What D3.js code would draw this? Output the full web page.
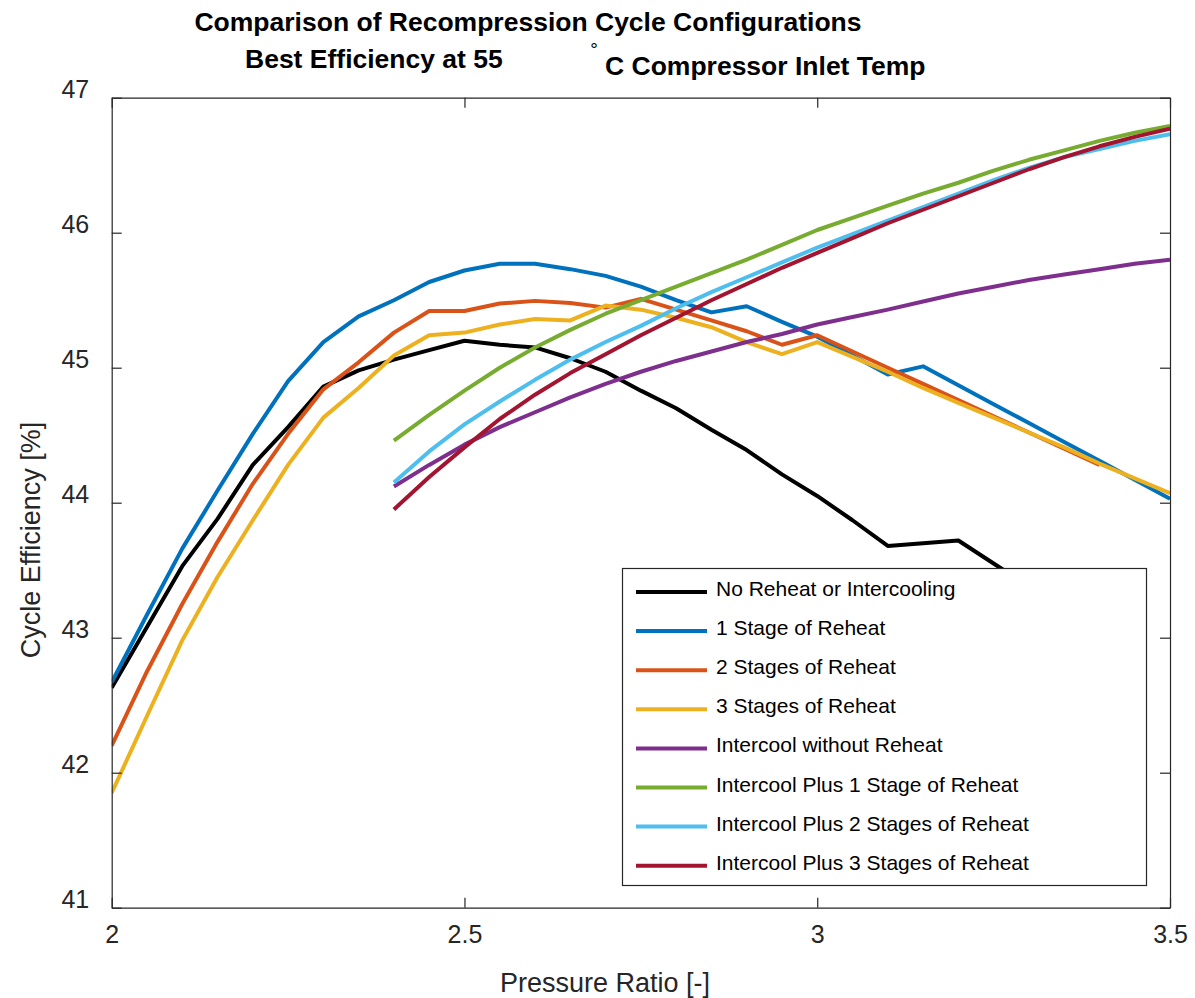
<!DOCTYPE html>
<html>
<head>
<meta charset="utf-8">
<script src="https://cdn.jsdelivr.net/npm/d3@7/dist/d3.min.js"></script>
<style>
	body { margin: 0; background: #fff; }
	svg { display: block; font-family: 'Liberation Sans', Arial, Helvetica, sans-serif; }
</style>
</head>
<body>
<svg id="chart" width="1195" height="998"></svg>
<script>
// pressure ratio grid shared by every series (null = no point)
var ratios = [2.00, 2.05, 2.10, 2.15, 2.20, 2.25, 2.30, 2.35, 2.40, 2.45, 2.50, 2.55, 2.60, 2.65, 2.70, 2.75,
	2.80, 2.85, 2.90, 2.95, 3.00, 3.05, 3.10, 3.15, 3.20, 3.25, 3.30, 3.35, 3.40, 3.45, 3.50]

var noReheat = [42.63, 43.08, 43.53, 43.88, 44.28, 44.56, 44.86, 44.98, 45.06, 45.13, 45.20, 45.17, 45.15, 45.07, 44.97, 44.83,
	44.70, 44.54, 44.39, 44.21, 44.05, 43.87, 43.68, 43.70, 43.72, 43.55, 43.38, 43.20, null, null, null]
var reheat1 = [42.67, 43.17, 43.66, 44.09, 44.51, 44.90, 45.19, 45.38, 45.50, 45.635, 45.72, 45.77, 45.77, 45.73, 45.68, 45.60,
	45.50, 45.41, 45.455, 45.34, 45.23, 45.09, 44.95, 45.01, 44.87, 44.73, 44.59, 44.45, 44.31, 44.17, 44.03]
var reheat2 = [42.20, 42.75, 43.25, 43.71, 44.14, 44.51, 44.84, 45.04, 45.26, 45.42, 45.42, 45.475, 45.495, 45.48, 45.445, 45.51,
	45.43, 45.35, 45.27, 45.17, 45.24, 45.12, 45.00, 44.88, 44.76, 44.64, 44.52, 44.40, 44.28, null, null]
var reheat3 = [41.85, 42.42, 42.98, 43.45, 43.87, 44.28, 44.63, 44.85, 45.09, 45.24, 45.26, 45.32, 45.36, 45.35, 45.46, 45.43,
	45.37, 45.30, 45.19, 45.10, 45.19, 45.08, 44.97, 44.85, 44.74, 44.63, 44.52, 44.41, 44.29, 44.18, 44.07]
var intercool0 = [null, null, null, null, null, null, null, null, 44.12, 44.28, 44.43, 44.56, 44.67, 44.78, 44.88, 44.97,
	45.05, 45.12, 45.19, 45.25, 45.32, 45.375, 45.43, 45.49, 45.55, 45.60, 45.65, 45.69, 45.73, 45.77, 45.80]
var intercool1 = [null, null, null, null, null, null, null, null, 44.46, 44.65, 44.83, 45.00, 45.15, 45.28, 45.40, 45.50,
	45.60, 45.70, 45.80, 45.91, 46.02, 46.11, 46.20, 46.29, 46.37, 46.46, 46.54, 46.61, 46.68, 46.74, 46.79]
var intercool2 = [null, null, null, null, null, null, null, null, 44.15, 44.38, 44.58, 44.75, 44.91, 45.06, 45.19, 45.31,
	45.44, 45.56, 45.67, 45.78, 45.89, 45.99, 46.09, 46.19, 46.29, 46.39, 46.48, 46.56, 46.62, 46.68, 46.73]
var intercool3 = [null, null, null, null, null, null, null, null, 43.95, 44.19, 44.41, 44.62, 44.80, 44.96, 45.10, 45.24,
	45.37, 45.50, 45.62, 45.74, 45.85, 45.96, 46.07, 46.17, 46.27, 46.37, 46.47, 46.56, 46.64, 46.71, 46.77]

var seriesNames = ['No Reheat or Intercooling', '1 Stage of Reheat', '2 Stages of Reheat', '3 Stages of Reheat',
	'Intercool without Reheat', 'Intercool Plus 1 Stage of Reheat', 'Intercool Plus 2 Stages of Reheat',
	'Intercool Plus 3 Stages of Reheat']
var seriesColours = ['#000000', '#0072BD', '#D95319', '#EDB120', '#7E2F8E', '#77AC30', '#4DBEEE', '#A2142F']
var seriesValues = [noReheat, reheat1, reheat2, reheat3, intercool0, intercool1, intercool2, intercool3]

var xTicks = [2, 2.5, 3, 3.5]
var yTicks = [41, 42, 43, 44, 45, 46, 47]

// Layout
var plotLeft = 111.7,
	plotRight = 1170,
	plotTop = 97.7,
	plotBottom = 907.7
var axisColour = '#262626'

var svg = d3.select('#chart')

var x = d3.scaleLinear().domain([2, 3.5]).range([plotLeft, plotRight])
var y = d3.scaleLinear().domain([41, 47]).range([plotBottom, plotTop])

svg.append('defs')
	.append('clipPath')
	.attr('id', 'plotClip')
	.append('rect')
	.attr('x', plotLeft)
	.attr('y', plotTop)
	.attr('width', plotRight - plotLeft)
	.attr('height', plotBottom - plotTop)

// series lines
var series = seriesValues.map(function (vals, i) {
	return {
		name: seriesNames[i],
		colour: seriesColours[i],
		points: ratios.map(function (r, j) {
			return { r: r, v: vals[j] }
		}),
	}
})

var line = d3
	.line()
	.defined(function (d) {
		return d.v !== null
	})
	.x(function (d) {
		return x(d.r)
	})
	.y(function (d) {
		return y(d.v)
	})

svg.append('g')
	.attr('clip-path', 'url(#plotClip)')
	.selectAll('path')
	.data(series)
	.join('path')
	.attr('d', function (d) {
		return line(d.points)
	})
	.attr('fill', 'none')
	.attr('stroke', function (d) {
		return d.colour
	})
	.attr('stroke-width', 4)
	.attr('stroke-linejoin', 'round')

// axes (ticks point inward on all four sides)
function styleAxis(g) {
	g.selectAll('path.domain').attr('stroke', axisColour).attr('stroke-width', 1.2)
	g.selectAll('.tick line').attr('stroke', axisColour).attr('stroke-width', 1.2)
	g.selectAll('.tick text').attr('fill', axisColour).style('font-size', '25px')
}

svg.append('g')
	.attr('transform', 'translate(0,' + plotBottom + ')')
	.call(d3.axisBottom(x).tickValues(xTicks).tickSize(-10).tickSizeOuter(0).tickFormat(d3.format('')))
	.call(styleAxis)
	.call(function (g) {
		g.selectAll('.tick text').attr('y', 35).attr('dy', 0)
	})

svg.append('g')
	.attr('transform', 'translate(0,' + plotTop + ')')
	.call(d3.axisTop(x).tickValues(xTicks).tickSize(-10).tickSizeOuter(0).tickFormat(''))
	.call(styleAxis)

svg.append('g')
	.attr('transform', 'translate(' + plotLeft + ',0)')
	.call(d3.axisLeft(y).tickValues(yTicks).tickSize(-10).tickSizeOuter(0).tickFormat(d3.format('d')))
	.call(styleAxis)
	.call(function (g) {
		g.selectAll('.tick text').attr('x', -22.5).attr('dy', 0)
	})

svg.append('g')
	.attr('transform', 'translate(' + plotRight + ',0)')
	.call(d3.axisRight(y).tickValues(yTicks).tickSize(-10).tickSizeOuter(0).tickFormat(''))
	.call(styleAxis)

// axis titles
svg.append('text')
	.attr('x', 605)
	.attr('y', 992)
	.attr('text-anchor', 'middle')
	.attr('fill', axisColour)
	.style('font-size', '27px')
	.text('Pressure Ratio [-]')

svg.append('text')
	.attr('transform', 'translate(40,540) rotate(-90)')
	.attr('text-anchor', 'middle')
	.attr('fill', axisColour)
	.style('font-size', '27px')
	.text('Cycle Efficiency [%]')

// title (the degree sign sits apart, as in the original export)
var title = svg.append('g').attr('fill', '#000').style('font-weight', 'bold')
title.append('text')
	.attr('x', 528)
	.attr('y', 31)
	.attr('text-anchor', 'middle')
	.style('font-size', '26.5px')
	.text('Comparison of Recompression Cycle Configurations')
title.append('text').attr('x', 245).attr('y', 68).style('font-size', '26.5px').text('Best Efficiency at 55')
title.append('text')
	.attr('x', 594)
	.attr('y', 56)
	.attr('text-anchor', 'middle')
	.style('font-size', '19px')
	.style('font-weight', 'normal')
	.text('°')
title.append('text').attr('x', 605).attr('y', 75).style('font-size', '26.5px').text('C Compressor Inlet Temp')

// legend
var legend = svg.append('g')
legend.append('rect')
	.attr('x', 622.5)
	.attr('y', 568.5)
	.attr('width', 524)
	.attr('height', 317)
	.attr('fill', '#fff')
	.attr('stroke', axisColour)
	.attr('stroke-width', 1.2)

var rows = legend
	.selectAll('g.row')
	.data(series)
	.join('g')
	.attr('class', 'row')
	.attr('transform', function (d, i) {
		return 'translate(0,' + (592 + i * 39.1) + ')'
	})
rows.append('line')
	.attr('x1', 636)
	.attr('x2', 707)
	.attr('stroke', function (d) {
		return d.colour
	})
	.attr('stroke-width', 4)
rows.append('text')
	.attr('x', 716)
	.attr('y', 4)
	.attr('fill', '#000')
	.style('font-size', '21px')
	.text(function (d) {
		return d.name
	})
</script>
</body>
</html>
